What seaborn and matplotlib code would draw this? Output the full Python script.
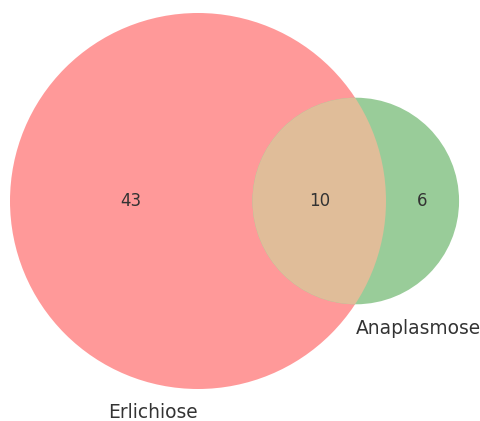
import numpy as np
import matplotlib
matplotlib.use("Agg")
import matplotlib.pyplot as plt
from matplotlib.patches import Circle
import seaborn as sns

# ---- data ----
set_labels = ["Erlichiose", "Anaplasmose"]
only_a = 43
only_b = 6
both = 10

sns.set_theme(style="white")
plt.rcParams["font.family"] = ["DejaVu Sans"]

area_a = only_a + both
area_b = only_b + both
r_a = np.sqrt(area_a / np.pi)
r_b = np.sqrt(area_b / np.pi)


def overlap(d, r1, r2):
    if d >= r1 + r2:
        return 0.0
    if d <= abs(r1 - r2):
        return np.pi * min(r1, r2) ** 2
    a1 = r1 ** 2 * np.arccos((d ** 2 + r1 ** 2 - r2 ** 2) / (2 * d * r1))
    a2 = r2 ** 2 * np.arccos((d ** 2 + r2 ** 2 - r1 ** 2) / (2 * d * r2))
    a3 = 0.5 * np.sqrt((-d + r1 + r2) * (d + r1 - r2) * (d - r1 + r2) * (d + r1 + r2))
    return a1 + a2 - a3


lo, hi = abs(r_a - r_b), r_a + r_b
for _ in range(100):
    mid = (lo + hi) / 2
    if overlap(mid, r_a, r_b) > both:
        lo = mid
    else:
        hi = mid
d = (lo + hi) / 2

W, H = 481, 421
fig = plt.figure(figsize=(W / 100, H / 100), dpi=100)
ax = fig.add_axes([0, 0, 1, 1])
s = 188.0 / r_a  # px per unit
cx_px, cy_px = 198.0, 201.0
ax.set_xlim(-cx_px / s, (W - cx_px) / s)
ax.set_ylim(-(H - cy_px) / s, cy_px / s)
ax.set_aspect("equal")
ax.axis("off")

red = np.array([1.0, 0.0, 0.0])
green = np.array([0.0, 0.5, 0.0])
mix = np.minimum(0.7 * (red + green), 1.0)


def blend(c, a=0.4):
    return tuple(1 - a + a * np.asarray(c))


ca = (0.0, 0.0)
cb = (d, 0.0)
circ_a = Circle(ca, r_a, facecolor=blend(red), edgecolor="none")
circ_b = Circle(cb, r_b, facecolor=blend(green), edgecolor="none")
ax.add_patch(circ_a)
ax.add_patch(circ_b)
inter = Circle(cb, r_b, facecolor=blend(mix), edgecolor="none")
ax.add_patch(inter)
clip = Circle(ca, r_a, transform=ax.transData)
inter.set_clip_path(clip)

txt_col = "#333333"
fs = 12
fs_lab = 13.4
a_left, a_right = -r_a, r_a
b_left, b_right = d - r_b, d + r_b
ax.text((a_left + b_left) / 2, 0, str(only_a), ha="center", va="center", fontsize=fs, color=txt_col)
ax.text((b_left + a_right) / 2, 0, str(both), ha="center", va="center", fontsize=fs, color=txt_col)
ax.text((a_right + b_right) / 2, 0, str(only_b), ha="center", va="center", fontsize=fs, color=txt_col)

ax.text(0, -r_a - 23 / s, set_labels[0], ha="right", va="center", fontsize=fs_lab, color=txt_col)
ax.text(d, -r_b - 24 / s, set_labels[1], ha="left", va="center", fontsize=fs_lab, color=txt_col)

fig.savefig("out.png", dpi=100)
